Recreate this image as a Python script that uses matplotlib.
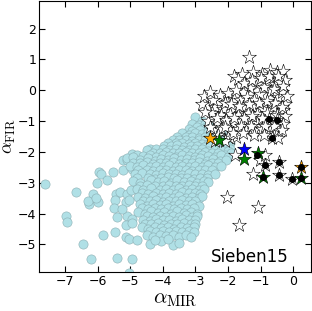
import numpy as np
import matplotlib
matplotlib.use('Agg')
import matplotlib.pyplot as plt

plt.rcParams['mathtext.fontset'] = 'cm'

# cyan circles: outliers on the left
ox = [-7.62, -6.67, -6.14, -6.27, -5.99, -6.98, -6.95, -6.45, -5.83, -6.19,
      -5.40, -4.94, -5.04, -6.03, -5.96, -5.89, -5.70, -5.52, -5.21, -4.94,
      -5.09, -4.84, -5.21, -4.94, -5.45, -5.30, -5.11, -4.99, -5.48, -5.14,
      -5.04, -5.40, -5.11, -4.94, -5.14, -4.94, -5.14, -5.04, -4.79, -5.48,
      -5.50, -5.25, -6.30, -6.05]
oy = [-3.03, -3.31, -3.37, -3.70, -3.62, -4.07, -4.28, -4.99, -4.70, -5.48,
      -5.45, -5.48, -5.92, -3.02, -2.65, -2.70, -2.92, -2.65, -2.25, -2.07,
      -2.27, -2.27, -2.58, -2.54, -3.35, -3.29, -3.35, -3.24, -3.56, -3.62,
      -3.56, -4.12, -4.08, -4.16, -4.37, -4.32, -4.75, -4.84, -4.86, -4.59,
      -3.83, -3.85, -3.60, -3.48]

# cyan circles: main cloud
cx = [-3.0, -2.8, -3.1, -2.6,
      -2.9, -2.7, -2.5,
      -3.2, -2.95, -2.75, -2.55, -2.4,
      -3.1, -2.85, -2.65, -2.45, -2.3,
      -3.4, -3.2, -3.0, -2.8, -2.6, -2.4, -2.2,
      -3.55, -3.3, -3.1, -2.9, -2.7, -2.5, -2.3, -2.1,
      -3.7, -3.5, -3.3, -3.1, -2.9, -2.7, -2.5, -2.1, -1.95,
      -3.85, -3.6, -3.4, -3.2, -3.0, -2.8, -2.6, -2.4, -2.2, -2.0,
      -3.95, -3.75, -3.55, -3.35, -3.15, -2.95, -2.75, -2.55, -2.35, -2.15, -1.95,
      -4.4, -4.2, -4.0, -3.8, -3.6, -3.4, -3.2, -3.0, -2.8, -2.6, -2.4, -2.2, -2.0,
      -4.5, -4.3, -4.1, -3.9, -3.7, -3.5, -3.3, -3.1, -2.9, -2.7, -2.5, -2.3, -2.1, -1.9,
      -4.8, -4.6, -4.4, -4.2, -4.0, -3.8, -3.6, -3.4, -3.2, -3.0, -2.8, -2.6, -2.4, -2.2, -2.0,
      -5.1, -4.9, -4.7, -4.45, -4.25, -4.05, -3.85, -3.65, -3.45, -3.25, -3.05, -2.85,
      -2.65, -2.45, -2.25, -2.05,
      -4.9, -4.7, -4.5, -4.3, -4.1, -3.9, -3.7, -3.5, -3.3, -3.1, -2.9, -2.7, -2.5, -2.3,
      -5.0, -4.8, -4.6, -4.4, -4.2, -4.0, -3.8, -3.6, -3.4, -3.2, -3.0, -2.8, -2.6, -2.4, -2.2,
      -4.75, -4.5, -4.3, -4.1, -3.9, -3.7, -3.5, -3.3, -3.1, -2.9, -2.7, -2.5,
      -4.85, -4.65, -4.4, -4.2, -4.0, -3.8, -3.6, -3.4, -3.2, -3.0, -2.8, -2.6, -2.4,
      -4.8, -4.45, -4.25, -4.05, -3.85, -3.65, -3.45, -3.25, -3.05, -2.85, -2.65,
      -4.9, -4.7, -4.35, -4.15, -3.95, -3.75, -3.55, -3.35, -3.15, -2.95, -2.75, -2.6,
      -4.7, -4.5, -4.25, -4.0, -3.8, -3.6, -3.4, -3.2, -3.0, -2.8,
      -4.8, -4.6, -4.35, -4.1, -3.9, -3.7, -3.5, -3.3, -3.1, -2.9, -2.75,
      -4.65, -4.45, -4.2, -4.0, -3.8, -3.6, -3.4, -3.2, -3.0, -2.85,
      -4.75, -4.55, -4.3, -4.1, -3.9, -3.7, -3.5, -3.3, -3.1, -2.9, -2.8,
      -4.6, -4.4, -4.2, -4.0, -3.8, -3.6, -3.4, -3.2, -3.0,
      -4.7, -4.5, -4.3, -4.1, -3.9, -3.7, -3.5, -3.3, -3.1, -2.9,
      -4.65, -4.45, -4.25, -4.05, -3.85, -3.65, -3.45, -3.25, -3.05,
      -4.75, -4.55, -4.35, -4.15, -3.95, -3.75, -3.55, -3.35, -3.15, -2.95,
      -4.5, -4.3, -4.1, -3.9, -3.7, -3.5, -3.3, -3.1, -2.95,
      -4.6, -4.4, -4.2, -4.0, -3.8, -3.6, -3.4, -3.2, -3.0,
      -4.55, -4.35, -4.15, -3.95, -3.75, -3.55, -3.35, -3.15, -3.0,
      -4.65, -4.45, -4.25, -4.05, -3.85, -3.65, -3.45, -3.25, -3.05,
      -4.4, -4.2, -4.0, -3.8, -3.6, -3.4, -3.2, -3.05,
      -4.5, -4.3, -4.1, -3.9, -3.7, -3.5, -3.3, -3.15,
      -4.4, -4.05, -3.7, -3.5, -4.25, -3.85]
cy = [-0.88, -1.0, -1.08, -1.05,
      -1.12, -1.1, -1.15,
      -1.25, -1.2, -1.22, -1.18, -1.3,
      -1.32, -1.3, -1.35, -1.28, -1.33,
      -1.38, -1.45, -1.4, -1.42, -1.35, -1.48, -1.4,
      -1.5, -1.52, -1.5, -1.55, -1.5, -1.53, -1.55, -1.5,
      -1.6, -1.62, -1.6, -1.65, -1.6, -1.62, -1.7, -1.62, -1.7,
      -1.7, -1.72, -1.7, -1.75, -1.7, -1.73, -1.75, -1.7, -1.72, -1.76,
      -1.8, -1.82, -1.78, -1.85, -1.8, -1.82, -1.85, -1.8, -1.88, -1.82, -1.9,
      -1.9, -1.92, -1.9, -1.95, -1.9, -1.93, -1.95, -1.9, -1.92, -1.96, -1.9, -1.95, -1.98,
      -1.95, -2.02, -2.05, -2.0, -2.02, -2.05, -2.0, -2.03, -2.05, -2.0, -2.05, -2.02, -2.1, -2.05,
      -2.1, -2.12, -2.1, -2.15, -2.1, -2.13, -2.15, -2.1, -2.12, -2.15, -2.1, -2.13, -2.16, -2.1, -2.15,
      -2.2, -2.15, -2.25, -2.2, -2.28, -2.22, -2.25, -2.2, -2.25, -2.22, -2.25, -2.2,
      -2.28, -2.22, -2.3, -2.25,
      -2.35, -2.37, -2.33, -2.38, -2.35, -2.36, -2.34, -2.38, -2.35, -2.37, -2.33, -2.38, -2.35, -2.36,
      -2.45, -2.5, -2.42, -2.48, -2.45, -2.5, -2.42, -2.48, -2.45, -2.5, -2.45, -2.48, -2.42, -2.5, -2.45,
      -2.6, -2.58, -2.62, -2.6, -2.57, -2.61, -2.6, -2.58, -2.62, -2.6, -2.58, -2.6,
      -2.72, -2.68, -2.7, -2.75, -2.68, -2.72, -2.7, -2.75, -2.68, -2.72, -2.7, -2.75, -2.7,
      -2.85, -2.83, -2.87, -2.85, -2.82, -2.86, -2.85, -2.83, -2.87, -2.85, -2.84,
      -2.95, -3.0, -2.92, -2.98, -2.95, -3.0, -2.92, -2.98, -2.95, -3.0, -2.95, -2.98,
      -3.1, -3.08, -3.12, -3.1, -3.07, -3.11, -3.1, -3.08, -3.12, -3.1,
      -3.2, -3.25, -3.18, -3.22, -3.2, -3.25, -3.18, -3.22, -3.2, -3.25, -3.2,
      -3.33, -3.35, -3.32, -3.36, -3.33, -3.35, -3.31, -3.34, -3.33, -3.35,
      -3.45, -3.5, -3.42, -3.48, -3.45, -3.5, -3.42, -3.48, -3.45, -3.5, -3.42,
      -3.58, -3.6, -3.57, -3.61, -3.58, -3.6, -3.56, -3.6, -3.58,
      -3.7, -3.75, -3.68, -3.72, -3.7, -3.75, -3.68, -3.72, -3.7, -3.75,
      -3.83, -3.85, -3.82, -3.86, -3.83, -3.85, -3.81, -3.85, -3.83,
      -3.95, -4.0, -3.92, -3.98, -3.95, -4.0, -3.92, -3.98, -3.95, -4.0,
      -4.08, -4.1, -4.07, -4.11, -4.08, -4.1, -4.06, -4.1, -4.08,
      -4.2, -4.25, -4.18, -4.22, -4.2, -4.25, -4.18, -4.22, -4.2,
      -4.33, -4.35, -4.32, -4.36, -4.33, -4.35, -4.31, -4.35, -4.33,
      -4.45, -4.5, -4.42, -4.48, -4.45, -4.5, -4.42, -4.48, -4.45,
      -4.58, -4.6, -4.57, -4.61, -4.58, -4.6, -4.56, -4.6,
      -4.7, -4.75, -4.68, -4.72, -4.7, -4.75, -4.68, -4.75,
      -5.0, -4.9, -5.02, -4.95, -4.85, -4.83]

# open stars
sx = [-1.37, -1.83, -1.58, -1.70, -1.22, -0.96, -0.71, -0.50, -0.30, -0.81,
      -0.56, -0.40, -1.12, -1.32, -1.53, -1.02, -0.71, -0.46, -0.25, -2.23,
      -2.03, -1.83, -1.63, -1.42, -0.90, -0.60, -1.20, -0.35, -0.20, -0.25,
      -2.65, -2.39, -2.14, -1.83, -1.53, -1.22, -0.91, -0.61, -0.30, -2.80,
      -2.50, -2.20, -1.95, -1.70, -1.40, -1.10, -0.80, -0.50, -0.25,
      -2.60, -2.35, -2.10, -1.85, -1.60, -1.35, -1.10, -0.85, -0.73, -0.51, -0.30,
      -2.45, -2.20, -1.95, -1.70, -1.45, -1.20, -0.95, -0.70, -0.45,
      -2.30, -2.00, -1.75, -0.66, -0.45, -1.93,
      -2.00, -1.75, -1.50, -1.25, -1.00, -0.75, -0.45, -0.30, -2.45, -2.10,
      -1.90, -1.65, -1.35, -1.05, -0.80, -0.55, -0.35, -2.70, -2.35, -2.05,
      -1.80, -1.50, -1.25, -0.95, -0.60, -0.35, -2.55, -2.10, -1.60, -1.30,
      -0.85, -2.40, -2.10, -1.85, -1.55, -1.20, -0.90, -2.75, -2.55,
      -1.78, -1.01, -0.86, -1.22, -0.86, -0.44, -0.43, -0.02, -2.04, -1.07, -1.65]
sy = [1.08, 0.45, 0.54, 0.38, 0.59, 0.54, 0.65, 0.59, 0.62, 0.32,
      0.22, 0.27, 0.22, 0.06, -0.05, -0.11, -0.05, -0.22, -0.43, -0.16,
      -0.38, -0.27, -0.32, -0.22, 0.10, 0.05, -0.30, -0.05, -0.20, 0.33,
      -0.50, -0.55, -0.60, -0.62, -0.55, -0.55, -0.60, -0.55, -0.65, -0.45,
      -0.75, -0.80, -0.78, -0.80, -0.75, -0.78, -0.75, -0.80, -0.85,
      -1.00, -1.05, -1.00, -1.05, -1.00, -1.00, -1.05, -1.00, -0.92, -0.95, -1.10,
      -1.30, -1.25, -1.30, -1.25, -1.30, -1.30, -1.25, -1.30, -1.30,
      -1.45, -1.50, -1.50, -1.56, -1.55, -1.56,
      -0.10, 0.00, 0.25, 0.35, 0.40, 0.45, 0.45, 0.15, -0.30, -0.40,
      -0.45, -0.50, -0.45, -0.40, -0.35, -0.40, -0.55, -0.70, -0.90, -0.95,
      -0.90, -0.90, -0.85, -0.90, -1.15, -1.30, -1.20, -1.20, -1.15, -1.15,
      -1.15, -1.65, -1.65, -1.40, -1.40, -1.45, -1.45, -0.20, -0.05,
      -2.10, -2.27, -2.10, -2.70, -2.41, -2.32, -2.75, -2.88, -3.45, -3.80, -4.37]

# filled stars
orange_x = [-2.56, 0.24]
orange_y = [-1.56, -2.48]
green_x = [-2.29, -1.51, -0.93, 0.24, -1.08]
green_y = [-1.60, -2.23, -2.81, -2.86, -2.05]
blue_x = [-1.51]
blue_y = [-1.89]

# black dots
dx = [-0.73, -0.51, -0.66, -0.86, -0.44, -0.43, -0.02, 0.24, 0.24, -0.93, -1.10]
dy = [-0.92, -0.95, -1.56, -2.41, -2.32, -2.75, -2.88, -2.48, -2.86, -2.81, -2.10]

fig = plt.figure(figsize=(3.12, 3.11), dpi=100)
ax = fig.add_axes([0.125, 0.125, 0.872, 0.872])

ax.scatter(ox + cx, oy + cy, s=44, c='#b0e0e6', edgecolors='#8aaeb3', linewidths=0.4, zorder=2)
ax.scatter(sx, sy, s=110, marker='*', c='white', edgecolors='k', linewidths=0.4, zorder=3)
ax.scatter(green_x, green_y, s=110, marker='*', c='green', edgecolors='k', linewidths=0.4, zorder=4)
ax.scatter(orange_x, orange_y, s=110, marker='*', c='orange', edgecolors='k', linewidths=0.4, zorder=4)
ax.scatter(blue_x, blue_y, s=110, marker='*', c='blue', edgecolors='k', linewidths=0.4, zorder=4)
ax.scatter(dx, dy, s=16, c='k', zorder=5)

ax.set_xlim(-7.8, 0.55)
ax.set_ylim(-5.9, 2.9)
ax.set_xticks(range(-7, 1))
ax.set_yticks(range(-5, 3))
ax.tick_params(direction='in', top=True, right=True, labelsize=9, length=4, pad=2)
ax.set_xlabel(r'$\alpha_{\rm MIR}$', fontsize=15, labelpad=1)
ax.set_ylabel(r'$\alpha_{\rm FIR}$', fontsize=13)
ax.yaxis.set_label_coords(-0.078, 0.5)
ax.text(0.775, 0.056, 'Sieben15', transform=ax.transAxes, ha='center', va='center', fontsize=12)

fig.savefig('out.png', dpi=100)
